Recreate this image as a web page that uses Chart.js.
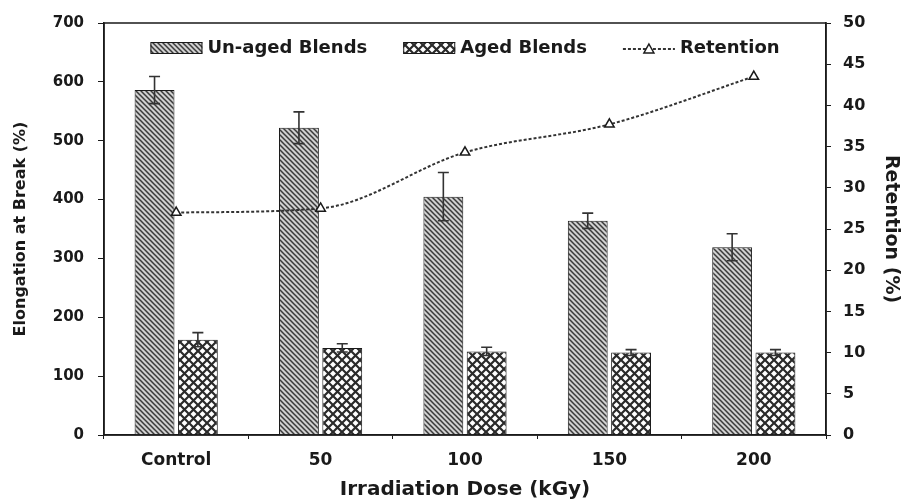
<!DOCTYPE html>
<html>
<head>
<meta charset="utf-8">
<script src="https://cdn.jsdelivr.net/npm/chart.js@4"></script>
<style>
  html, body { margin: 0; padding: 0; background: #fff; }
  #wrap { width: 906px; height: 502px; }
</style>
</head>
<body>
<div id="wrap"><canvas id="chart" width="906" height="502"></canvas></div>
<script>
// data
const doses = ['Control', '50', '100', '150', '200'];
const unaged = [586, 522, 405, 364, 319];
const unagedErr = [23, 27, 41, 13, 23];
const aged = [162, 148, 142, 140, 140];
const agedErr = [12, 7, 7, 5, 5];
const retention = [27.0, 27.5, 34.3, 37.7, 43.5];
const seriesNames = ['Un-aged Blends', 'Aged Blends', 'Retention'];

const FONT = "'DejaVu Sans', sans-serif";
const INK = '#1a1a1a';

// hatch patterns
function stripePattern() {
  const c = document.createElement('canvas');
  c.width = 5; c.height = 5;
  const g = c.getContext('2d');
  g.fillStyle = '#d0d0d0';
  g.fillRect(0, 0, 5, 5);
  g.strokeStyle = '#3a3a3a';
  g.lineWidth = 1.5;
  g.beginPath();
  g.moveTo(-1, -1); g.lineTo(6, 6);
  g.moveTo(4, -1); g.lineTo(6, 1);
  g.moveTo(-1, 4); g.lineTo(1, 6);
  g.stroke();
  return g.createPattern(c, 'repeat');
}

function crossPattern() {
  const s = 9;
  const c = document.createElement('canvas');
  c.width = s; c.height = s;
  const g = c.getContext('2d');
  g.fillStyle = '#ffffff';
  g.fillRect(0, 0, s, s);
  g.strokeStyle = '#2a2a2a';
  g.lineWidth = 2.2;
  g.beginPath();
  g.moveTo(-1, -1); g.lineTo(s + 1, s + 1);
  g.moveTo(s + 1, -1); g.lineTo(-1, s + 1);
  g.stroke();
  return g.createPattern(c, 'repeat');
}

const stripes = stripePattern();
const cross = crossPattern();

// error bars on the columns
const errorBars = {
  id: 'errorBars',
  afterDatasetsDraw(chart) {
    const ctx = chart.ctx;
    const y = chart.scales.y;
    const sets = [[0, unaged, unagedErr], [1, aged, agedErr]];
    ctx.save();
    ctx.strokeStyle = '#333';
    ctx.lineWidth = 1.6;
    sets.forEach(([di, vals, errs]) => {
      chart.getDatasetMeta(di).data.forEach((bar, i) => {
        const top = y.getPixelForValue(vals[i] + errs[i]);
        const bot = y.getPixelForValue(vals[i] - errs[i]);
        ctx.beginPath();
        ctx.moveTo(bar.x, top); ctx.lineTo(bar.x, bot);
        ctx.moveTo(bar.x - 5.5, top); ctx.lineTo(bar.x + 5.5, top);
        ctx.moveTo(bar.x - 5.5, bot); ctx.lineTo(bar.x + 5.5, bot);
        ctx.stroke();
      });
    });
    ctx.restore();
  }
};

// box around plot area + legend inside it
const frameAndLegend = {
  id: 'frameAndLegend',
  afterDraw(chart) {
    const a = chart.chartArea;
    const ctx = chart.ctx;
    ctx.save();
    ctx.strokeStyle = INK;
    ctx.lineWidth = 1.5;
    ctx.strokeRect(a.left, a.top, a.right - a.left, a.bottom - a.top);

    // legend
    const iconW = 52, iconH = 12, gap = 5, spacing = 36;
    const cy = a.top + 25;
    ctx.font = 'bold 18px ' + FONT;
    const widths = seriesNames.map(t => ctx.measureText(t).width);
    const total = widths.reduce((s, w) => s + iconW + gap + w, 0) + spacing * 2;
    let x = (a.left + a.right) / 2 - total / 2;
    seriesNames.forEach((t, i) => {
      if (i < 2) {
        ctx.fillStyle = i === 0 ? stripes : cross;
        ctx.fillRect(x, cy - iconH / 2, iconW, iconH);
        ctx.lineWidth = 1;
        ctx.strokeStyle = INK;
        ctx.strokeRect(x + 0.5, cy - iconH / 2 + 0.5, iconW - 1, iconH - 1);
      } else {
        ctx.strokeStyle = '#333';
        ctx.lineWidth = 2;
        ctx.setLineDash([3, 2]);
        ctx.beginPath();
        ctx.moveTo(x, cy + 1); ctx.lineTo(x + iconW, cy + 1);
        ctx.stroke();
        ctx.setLineDash([]);
        ctx.fillStyle = '#fff';
        ctx.lineWidth = 1.5;
        ctx.strokeStyle = INK;
        const mx = x + iconW / 2;
        ctx.beginPath();
        ctx.moveTo(mx, cy - 4); ctx.lineTo(mx + 5, cy + 5); ctx.lineTo(mx - 5, cy + 5); ctx.closePath();
        ctx.fill(); ctx.stroke();
      }
      ctx.fillStyle = INK;
      ctx.textBaseline = 'middle';
      ctx.textAlign = 'left';
      ctx.fillText(t, x + iconW + gap, cy);
      x += iconW + gap + widths[i] + spacing;
    });
    ctx.restore();
  }
};

new Chart(document.getElementById('chart'), {
  data: {
    labels: doses,
    datasets: [
      {
        type: 'bar', label: seriesNames[0], data: unaged, yAxisID: 'y',
        backgroundColor: stripes, borderColor: INK, borderWidth: 1,
        categoryPercentage: 0.6, barPercentage: 0.92, order: 1
      },
      {
        type: 'bar', label: seriesNames[1], data: aged, yAxisID: 'y',
        backgroundColor: cross, borderColor: INK, borderWidth: 1,
        categoryPercentage: 0.6, barPercentage: 0.92, order: 1
      },
      {
        type: 'line', label: seriesNames[2], data: retention, yAxisID: 'y1',
        borderColor: '#333', borderWidth: 2, borderDash: [3, 2],
        cubicInterpolationMode: 'monotone',
        pointStyle: 'triangle', pointRadius: 5.5, pointBorderWidth: 1.5,
        pointBackgroundColor: '#fff', pointBorderColor: INK, order: 0
      }
    ]
  },
  options: {
    responsive: false,
    animation: false,
    layout: { padding: { top: 16, left: 6, right: 4, bottom: 0 } },
    plugins: {
      tooltip: { enabled: false },
      legend: { display: false }
    },
    scales: {
      x: {
        offset: true,
        grid: { display: true, drawOnChartArea: false, offset: true, tickLength: 4, color: INK },
        border: { display: true, color: INK, width: 1.5 },
        ticks: { color: INK, font: { family: FONT, size: 17, weight: 'bold' }, padding: 11 },
        title: {
          display: true, text: 'Irradiation Dose (kGy)', color: INK,
          font: { family: FONT, size: 20, weight: 'bold' }, padding: { top: 0, bottom: 0 }
        },
        afterFit(s) { s.height = 67; }
      },
      y: {
        position: 'left', min: 0, max: 700,
        ticks: { stepSize: 100, color: INK, font: { family: FONT, size: 15, weight: 'bold' }, padding: 14 },
        grid: { display: true, drawOnChartArea: false, tickLength: 6, color: INK },
        border: { display: true, color: INK, width: 1.5 },
        title: {
          display: true, text: 'Elongation at Break (%)', color: INK,
          font: { family: FONT, size: 16, weight: 'bold' }, padding: { top: 5, bottom: 0 }
        },
        afterFit(s) { s.width = 98; }
      },
      y1: {
        position: 'right', min: 0, max: 50,
        ticks: { stepSize: 5, color: INK, font: { family: FONT, size: 16, weight: 'bold' }, padding: 12 },
        grid: { display: true, drawOnChartArea: false, tickLength: 5, color: INK },
        border: { display: true, color: INK, width: 1.5 },
        title: {
          display: true, text: 'Retention (%)', color: INK,
          font: { family: FONT, size: 19, weight: 'bold' }, padding: { top: 0, bottom: 0 }
        },
        afterFit(s) { s.width = 76; }
      }
    }
  },
  plugins: [errorBars, frameAndLegend]
});
</script>
</body>
</html>
